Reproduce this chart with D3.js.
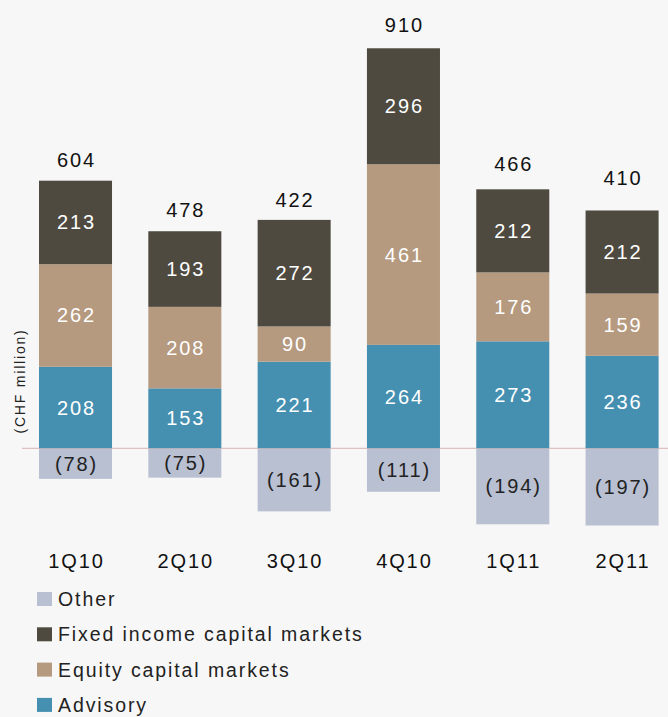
<!DOCTYPE html>
<html><head><meta charset="utf-8">
<script src="https://cdn.jsdelivr.net/npm/d3@7"></script>
<style>
html,body{margin:0;padding:0;background:#f7f7f7;}
svg{display:block;font-family:"Liberation Sans",Arial,sans-serif;}
</style></head>
<body><svg id="c" width="668" height="717"></svg>
<script>
const categories = ["1Q10","2Q10","3Q10","4Q10","1Q11","2Q11"];
const advisory = [208,153,221,264,273,236];
const equity = [262,208,90,461,176,159];
const fixedIncome = [213,193,272,296,212,212];
const other = [-78,-75,-161,-111,-194,-197];
const totals = [604,478,422,910,466,410];
const seriesNames = ["Advisory","Equity capital markets","Fixed income capital markets","Other"];
const legendOrder = ["Other","Fixed income capital markets","Equity capital markets","Advisory"];

// styling / layout (kept apart from the data)
const colors = {"Advisory":"#458fb0","Equity capital markets":"#b59a80","Fixed income capital markets":"#4e4a40","Other":"#b9c0d2"};
const totalLabelGap = [13.7,14.7,12.7,16,18,25];
const LS = 1.9;

const svg = d3.select("#c");
const x = d3.scaleBand().domain(categories).range([39,658.6]).paddingInner(0.332).paddingOuter(0);
const y = d3.scaleLinear().domain([-200,1021]).range([448.3+200*0.3918, 448.3-1021*0.3918]);

const rows = categories.map((c,i)=>({cat:c,"Advisory":advisory[i],"Equity capital markets":equity[i],"Fixed income capital markets":fixedIncome[i]}));
const stack = d3.stack().keys(seriesNames.slice(0,3));
const layers = stack(rows);

// baseline
svg.append("line").attr("x1",22).attr("x2",668).attr("y1",y(0)).attr("y2",y(0))
  .attr("stroke","#d9b3b3").attr("stroke-width",1);

function label(sel){
  return sel.attr("text-anchor","middle").attr("font-size",20).attr("letter-spacing",LS)
    .attr("dx",LS/2);
}

layers.forEach(layer=>{
  const g = svg.append("g");
  g.selectAll("rect").data(layer).enter().append("rect")
    .attr("x",d=>x(d.data.cat)).attr("width",x.bandwidth())
    .attr("y",d=>y(d[1])).attr("height",d=>y(d[0])-y(d[1]))
    .attr("fill",colors[layer.key]);
  label(g.selectAll("text").data(layer).enter().append("text")
    .attr("x",d=>x(d.data.cat)+x.bandwidth()/2)
    .attr("y",d=>(y(d[0])+y(d[1]))/2+7))
    .attr("fill","#fff")
    .text(d=>d[1]-d[0]);
});

// other (negative)
const og = svg.append("g");
og.selectAll("rect").data(other).enter().append("rect")
  .attr("x",(d,i)=>x(categories[i])).attr("width",x.bandwidth())
  .attr("y",y(0)+0.5).attr("height",d=>y(d)-y(0)-0.5)
  .attr("fill",colors["Other"]);
label(og.selectAll("text").data(other).enter().append("text")
  .attr("x",(d,i)=>x(categories[i])+x.bandwidth()/2)
  .attr("y",d=>(y(0)+y(d))/2+7))
  .attr("fill","#222")
  .text(d=>"("+Math.abs(d)+")");

// totals
label(svg.append("g").selectAll("text").data(totals).enter().append("text")
  .attr("x",(d,i)=>x(categories[i])+x.bandwidth()/2)
  .attr("y",(d,i)=>y(advisory[i]+equity[i]+fixedIncome[i])-totalLabelGap[i]))
  .attr("fill","#111")
  .text(d=>d);

// x axis labels
const xAxis = d3.axisBottom(x).tickSize(0).tickPadding(0);
const xg = svg.append("g").attr("transform","translate(0,554)").call(xAxis);
xg.select(".domain").remove();
xg.selectAll("text").attr("font-size",20).attr("fill","#111").attr("letter-spacing",LS).attr("dx",LS/2)
  .attr("font-family","Liberation Sans, Arial, sans-serif");

// y label
svg.append("text").attr("transform","translate(25,381) rotate(-90)")
  .attr("text-anchor","middle").attr("font-size",14).attr("letter-spacing",1.8).attr("fill","#222")
  .text("(CHF million)");

// legend
const lg = svg.append("g");
legendOrder.forEach((k,i)=>{
  const base = 606 + i*35.3;
  lg.append("rect").attr("x",37).attr("y",base-14).attr("width",15).attr("height",14).attr("fill",colors[k]);
  lg.append("text").attr("x",58).attr("y",base).attr("font-size",19.5).attr("letter-spacing",1.9).attr("fill","#222").text(k);
});
</script></body></html>
